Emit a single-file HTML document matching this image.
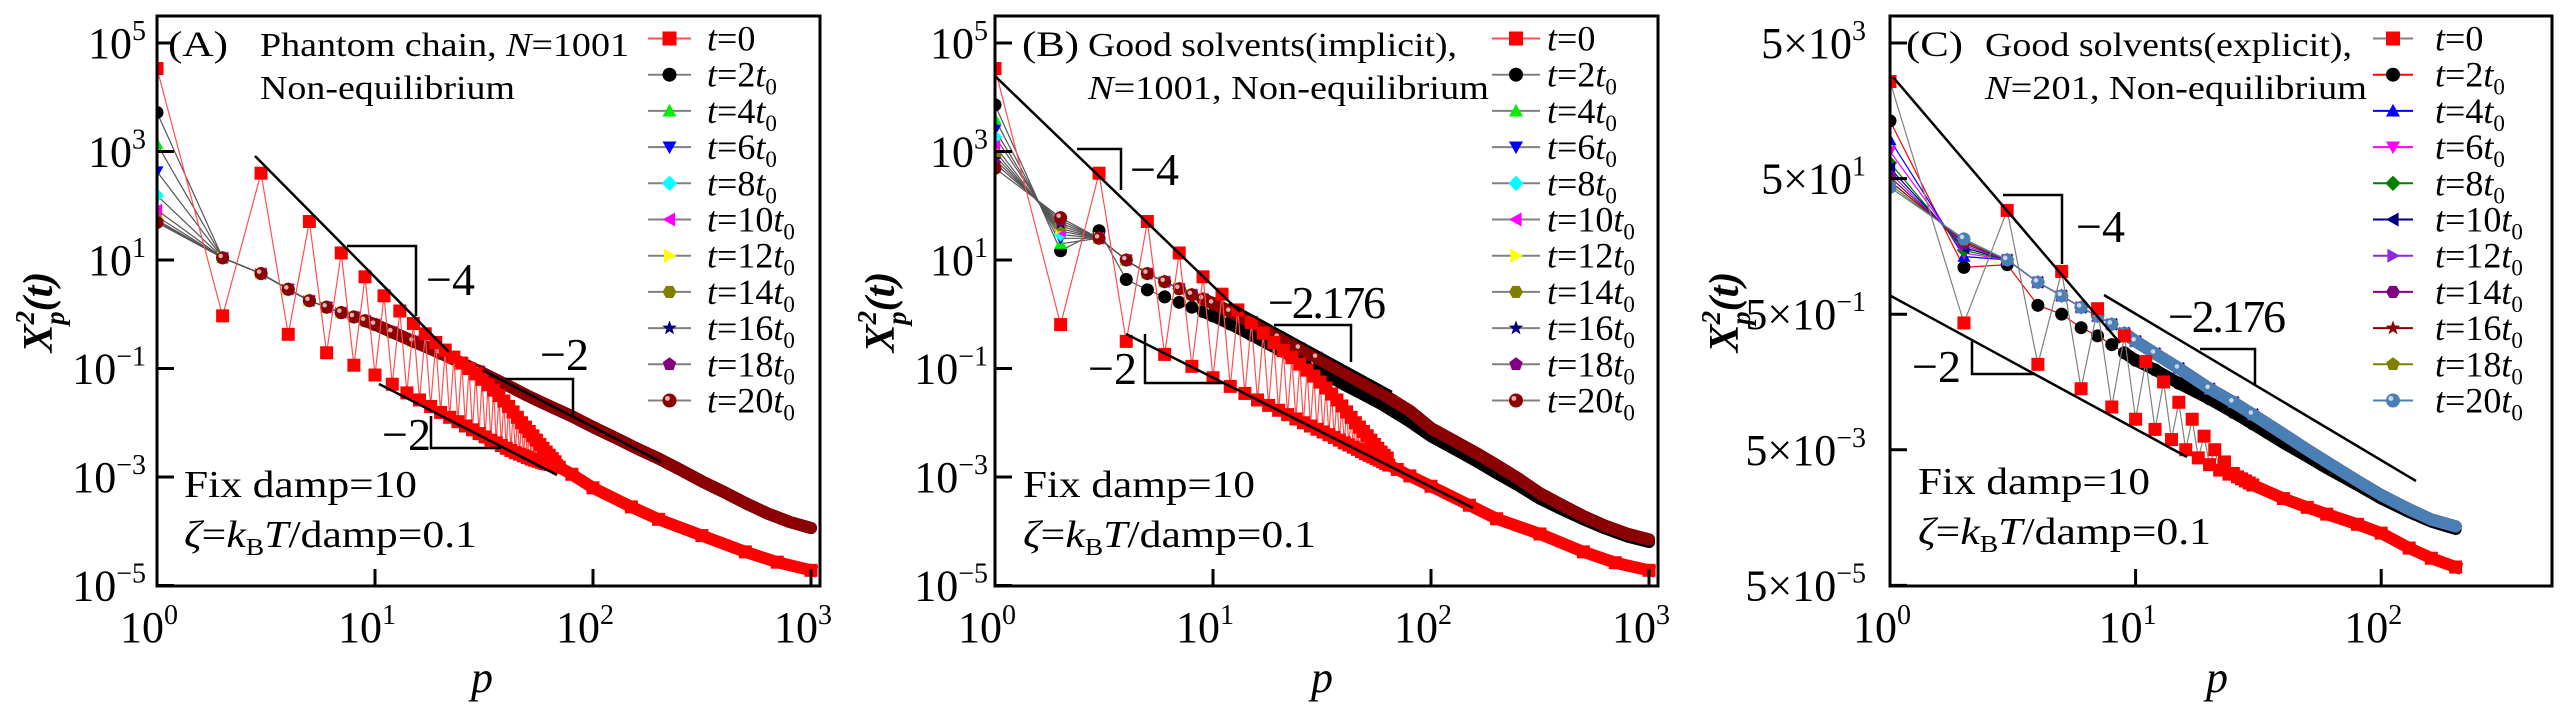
<!DOCTYPE html>
<html><head><meta charset="utf-8"><style>
html,body{margin:0;padding:0;background:#fff;}
svg{display:block;font-family:"Liberation Serif",serif;}
</style></head><body>
<svg id="chart" width="2567" height="709" viewBox="0 0 2567 709" xmlns="http://www.w3.org/2000/svg" font-family="Liberation Serif, serif"></svg>
<script>
// ---------- DATA (log10 values) ----------
const legendLabels = ["0","2","4","6","8","10","12","14","16","18","20"];
// Panel A: red t=0, values for p = 1..68
const redA = [4.53,-0.03,2.6,-0.37,1.71,-0.71,1.13,-0.94,0.69,-1.12,0.34,-1.29,0.06,-1.45,-0.17,-1.58,-0.36,-1.7,-0.52,-1.81,-0.66,-1.9,-0.79,-1.98,-0.9,-2.06,-1.0,-2.13,-1.1,-2.2,-1.2,-2.26,-1.3,-2.32,-1.4,-2.37,-1.5,-2.42,-1.6,-2.47,-1.7,-2.51,-1.8,-2.55,-1.9,-2.58,-2.0,-2.61,-2.08,-2.64,-2.16,-2.67,-2.24,-2.69,-2.32,-2.71,-2.4,-2.73,-2.47,-2.75,-2.54,-2.76,-2.6,-2.77,-2.66,-2.78,-2.72,-2.79];
const redTailPA = [70,80,100,150,200,316,500,700,1000];
const redTailA = [-2.82,-2.95,-3.2,-3.55,-3.78,-4.08,-4.38,-4.57,-4.72];
const bandStartA = [3.72,3.14,2.63,2.19,1.92,1.8,1.74,1.71,1.7,1.69];
const bandPA = [2,3,4,5,6,7,8,9,10,12,15,20,25,30,40,50,60,80,100,130,160,200,250,316,400,500,630,800,1000];
const bandA = [1.04,0.75,0.46,0.25,0.13,0.03,-0.05,-0.12,-0.19,-0.33,-0.5,-0.72,-0.9,-1.05,-1.3,-1.5,-1.65,-1.88,-2.08,-2.3,-2.48,-2.66,-2.86,-3.08,-3.28,-3.48,-3.67,-3.83,-3.94];
// Panel B
const redB = [4.53,-0.19,2.6,-0.5,1.71,-0.74,1.13,-0.96,0.69,-1.17,0.37,-1.33,0.08,-1.46,-0.15,-1.58,-0.35,-1.68,-0.52,-1.77,-0.67,-1.85,-0.8,-1.93,-0.92,-2.0,-1.03,-2.06,-1.14,-2.12,-1.25,-2.17,-1.36,-2.22,-1.47,-2.27,-1.58,-2.32,-1.69,-2.37,-1.8,-2.41,-1.9,-2.45,-2.0,-2.49,-2.08,-2.53,-2.16,-2.57,-2.24,-2.6,-2.32,-2.63,-2.4,-2.66,-2.47,-2.69,-2.54,-2.72,-2.6,-2.75,-2.65,-2.78];
const redTailPB = [70,80,100,150,200,316,500,700,1000];
const redTailB = [-2.86,-2.98,-3.17,-3.52,-3.77,-4.05,-4.38,-4.58,-4.72];
const bandStartB = [3.86,3.6,3.4,3.27,3.1,3.0,2.92,2.85,2.78,2.69];
const bandSecondB = [1.17,1.3,1.4,1.47,1.53,1.58,1.63,1.68,1.73,1.78];
const bandPB = [3,4,5,6,7,8,9,10,12,15,20,25,30,40,50,60,80,100,130,160,200,250,316,400,500,630,800,1000];
const blackB = [1.54,0.64,0.45,0.32,0.22,0.13,0.05,-0.03,-0.18,-0.38,-0.65,-0.85,-1.02,-1.3,-1.5,-1.67,-1.98,-2.25,-2.5,-2.7,-2.93,-3.15,-3.4,-3.6,-3.78,-3.95,-4.1,-4.2];
const upperB = [1.4,1.0,0.75,0.6,0.47,0.36,0.28,0.2,0.05,-0.15,-0.43,-0.63,-0.8,-1.08,-1.3,-1.47,-1.78,-2.1,-2.35,-2.55,-2.78,-3.02,-3.3,-3.52,-3.72,-3.9,-4.05,-4.15];
// Panel C
const redC = [3.13,-0.43,1.23,-1.04,0.33,-1.4,-0.22,-1.67,-0.62,-1.85,-1.0,-2.0,-1.3,-2.15,-1.6,-2.3,-1.85,-2.42,-2.1,-2.52,-2.3,-2.6,-2.48,-2.66,-2.65,-2.7,-2.73,-2.76,-2.79,-2.82];
const redTailPC = [40,50,60,80,100,130,160,201];
const redTailC = [-3.02,-3.15,-3.25,-3.4,-3.53,-3.75,-3.9,-4.03];
const bandStartC = [2.55,2.27,2.1,1.93,1.85,1.78,1.72,1.66,1.61,1.57];
const bandSecondC = [0.39,0.55,0.6,0.64,0.68,0.71,0.74,0.77,0.79,0.81];
const bandPC = [3,4,5,6,7,8,9,10,12,15,20,25,30,40,50,60,80,100,130,160,201];
const blackC = [0.43,-0.17,-0.3,-0.5,-0.62,-0.75,-0.87,-0.98,-1.12,-1.32,-1.55,-1.75,-1.92,-2.2,-2.4,-2.57,-2.82,-3.02,-3.22,-3.36,-3.47];
const upperC = [0.5,0.17,-0.03,-0.2,-0.33,-0.45,-0.58,-0.7,-0.88,-1.1,-1.4,-1.6,-1.78,-2.07,-2.3,-2.48,-2.76,-2.97,-3.18,-3.33,-3.43];
const yTicksAB = [5,3,1,-1,-3,-5];
const yTicksC = [3,1,-1,-3,-5];
const xTicksAB = [0,1,2,3];
const xTicksC = [0,1,2];

// ---------- STYLE ----------
const NS="http://www.w3.org/2000/svg";
const svg=document.getElementById('chart');
function el(tag,attrs,parent){const e=document.createElementNS(NS,tag);for(const k in attrs)e.setAttribute(k,attrs[k]);(parent||svg).appendChild(e);return e;}
const stylesAB=[["square","#ff0000"],["circle","#000000"],["triUp","#00ee00"],["triDown","#0000ff"],["diamond","#00ffff"],["triLeft","#ff00ff"],["triRight","#ffff00"],["hexagon","#808000"],["star","#000080"],["pentagon","#800080"],["ball","#8b0000"]];
const stylesC=[["square","#ff0000"],["circle","#000000"],["triUp","#0000ff"],["triDown","#ff00ff"],["diamond","#008000"],["triLeft","#000080"],["triRight","#8a2be2"],["hexagon","#800080"],["star","#8b0000"],["pentagon","#808000"],["ball","#4a7fb5"]];
const lineColC=["#808080","#ff0000","#0000ff","#ff00ff","#008000","#000080","#8a2be2","#800080","#8b0000","#808000","#4a7fb5"];

function marker(g,shape,color,x,y,s){
  let e;const r=s;
  if(shape==="square")e=el('rect',{x:x-r,y:y-r,width:2*r,height:2*r,fill:color},g);
  else if(shape==="circle")e=el('circle',{cx:x,cy:y,r:r,fill:color},g);
  else if(shape==="ball"){e=el('circle',{cx:x,cy:y,r:r,fill:color},g);el('circle',{cx:x-r*0.3,cy:y-r*0.3,r:r*0.35,fill:"#fff","fill-opacity":0.7},g);}
  else{
    let pts=[];
    if(shape==="triUp")pts=[[0,-r],[r,r*0.8],[-r,r*0.8]];
    else if(shape==="triDown")pts=[[0,r],[r,-r*0.8],[-r,-r*0.8]];
    else if(shape==="triLeft")pts=[[-r,0],[r*0.8,-r],[r*0.8,r]];
    else if(shape==="triRight")pts=[[r,0],[-r*0.8,-r],[-r*0.8,r]];
    else if(shape==="diamond")pts=[[0,-r*1.1],[r*1.1,0],[0,r*1.1],[-r*1.1,0]];
    else if(shape==="hexagon"){for(let i=0;i<6;i++){const a=Math.PI/3*i;pts.push([r*Math.cos(a),r*Math.sin(a)]);}}
    else if(shape==="pentagon"){for(let i=0;i<5;i++){const a=-Math.PI/2+2*Math.PI/5*i;pts.push([r*Math.cos(a),r*Math.sin(a)]);}}
    else if(shape==="star"){for(let i=0;i<10;i++){const a=-Math.PI/2+Math.PI/5*i;const rr=i%2?r*0.45:r*1.1;pts.push([rr*Math.cos(a),rr*Math.sin(a)]);}}
    e=el('polygon',{points:pts.map(p=>(x+p[0])+","+(y+p[1])).join(" "),fill:color},g);
  }
  return e;
}

function panel(cfg){
  const g=el('g',{});
  
  
  const X=lp=>cfg.x0+lp*cfg.dec;
  const Y=v=>cfg.yTop+(cfg.yMax-v)*cfg.ydec;
  const clipId="clip"+cfg.id;
  const cp=el('clipPath',{id:clipId},g);el('rect',{x:cfg.left,y:cfg.top,width:cfg.right-cfg.left,height:cfg.bottom-cfg.top},cp);
  const plot=el('g',{'clip-path':'url(#'+clipId+')'},g);
  
  
  const sty=cfg.styles;
  for(let s=1;s<=10;s++){
    const sg=el('g',{},plot);
    
    
    const P=[1],V=[cfg.bandStart[s-1]];
    if(cfg.bandSecond){P.push(2);V.push(cfg.bandSecond[s-1]);}
    const tail=(s===1)?cfg.blackTail:cfg.upperTail;
    cfg.bandP.forEach((p,i)=>{P.push(p);V.push(tail[i]);});
    const pts=P.map((p,i)=>[X(Math.log10(p)),Y(V[i])]);
    el('polyline',{points:pts.map(q=>q.join(",")).join(" "),fill:"none",stroke:cfg.lineCol?cfg.lineCol[s]:"#555","stroke-width":1.2},sg);
    const thick=pts.filter((q,i)=>P[i]>=9);
    el('polyline',{points:thick.map(q=>q.join(",")).join(" "),fill:"none",stroke:sty[s][1],"stroke-width":12,"stroke-linejoin":"round","stroke-linecap":"round"},sg);
    pts.forEach((q,i)=>{if(P[i]<=30){const m=marker(sg,sty[s][0],sty[s][1],q[0],q[1],6.5);}});
  }
  const rg=el('g',{},plot);
  
  
  const rp=cfg.red.map((v,i)=>[X(Math.log10(i+1)),Y(v)]);
  const last=rp[rp.length-1];
  const tp=cfg.redTailP.map((p,i)=>[X(Math.log10(p)),Y(cfg.redTail[i])]);
  el('polyline',{points:rp.map(q=>q.join(",")).join(" "),fill:"none",stroke:cfg.redLine,"stroke-width":1.2},rg);
  el('polyline',{points:[last].concat(tp).map(q=>q.join(",")).join(" "),fill:"none",stroke:"#ff0000","stroke-width":12,"stroke-linejoin":"round","stroke-linecap":"square"},rg);
  rp.forEach(q=>{const m=marker(rg,"square","#ff0000",q[0],q[1],6.5);});
  tp.forEach(q=>{const m=marker(rg,"square","#ff0000",q[0],q[1],6.5);});
  cfg.guides.forEach(gd=>{
    const l=el('polyline',{points:gd.pts.map(q=>q.join(",")).join(" "),fill:"none",stroke:"#000","stroke-width":gd.w||2.5},g);
    
    
  });
  cfg.slopeLabels.forEach(sl=>{
    const t=el('text',{x:sl[0],y:sl[1],'font-size':46,fill:"#000"},g);t.textContent=sl[2];
    if(sl[3])t.setAttribute('textLength',sl[3]);
    
    
  });
  const fr=el('rect',{x:cfg.left,y:cfg.top,width:cfg.right-cfg.left,height:cfg.bottom-cfg.top,fill:"none",stroke:"#000","stroke-width":3},g);
  
  
  cfg.yTicks.forEach((v,i)=>{
    const y=Y(v);
    el('line',{x1:cfg.left,x2:cfg.left+17,y1:y,y2:y,stroke:"#000","stroke-width":3},g);
    const t=el('text',{x:cfg.yLabelRight,y:y+15,'font-size':44,'text-anchor':'end'},g);
    
    
    const a=el('tspan',{},t);a.textContent=cfg.yPrefix+"10";
    const e=cfg.yExp[i];
    const b=el('tspan',{'font-size':28,dy:-18},t);b.textContent=(e<0?"\u2212"+(-e):String(e));
  });
  cfg.xTicks.forEach(v=>{
    const x=X(v);
    if(v>0&&x<cfg.right-2)el('line',{x1:x,x2:x,y1:cfg.bottom,y2:cfg.bottom-17,stroke:"#000","stroke-width":3},g);
    const t=el('text',{x:x-8,y:642,'font-size':44,'text-anchor':'middle'},g);
    
    
    const a=el('tspan',{},t);a.textContent="10";
    const b=el('tspan',{'font-size':28,dy:-18},t);b.textContent=String(v);
  });
  const xt=el('text',{x:cfg.xTitleX,y:692,'font-size':44,'font-style':'italic','text-anchor':'middle'},g);xt.textContent="p";
  
  
  const yt=el('text',{transform:`translate(${cfg.yTitleX},312) rotate(-90)`,'font-size':42,'font-weight':'bold','font-style':'italic','text-anchor':'middle',y:14},g);
  
  
  const y1=el('tspan',{},yt);y1.textContent="X";
  const y2=el('tspan',{'font-size':27,dy:-18},yt);y2.textContent="2";
  const y3=el('tspan',{'font-size':27,dx:-14,dy:30},yt);y3.textContent="p";
  const y4=el('tspan',{dy:-12},yt);y4.textContent="(t)";
  cfg.texts.forEach(tx=>{
    const t=el('text',{x:tx[0],y:tx[1],'font-size':tx[2],textLength:tx[3],lengthAdjust:"spacingAndGlyphs"},g);
    
    
    t.innerHTML=tx[4];
  });
  const lg=el('g',{},g);
  
  
  for(let i=0;i<11;i++){
    const ey=cfg.legY+i*36.2;
    const eg=el('g',{},lg);
    
    
    const lc=i===0?cfg.redLine:(cfg.lineCol?cfg.lineCol[i]:"#808080");
    el('line',{x1:cfg.legX1,x2:cfg.legX2,y1:ey,y2:ey,stroke:lc,"stroke-width":2},eg);
    marker(eg,sty[i][0],sty[i][1],(cfg.legX1+cfg.legX2)/2,ey,7);
    const t=el('text',{x:cfg.legTX,y:ey+12,'font-size':36},eg);
    if(i===0)t.innerHTML='<tspan font-style="italic">t</tspan>=0';
    else t.innerHTML='<tspan font-style="italic">t</tspan>='+legendLabels[i]+'<tspan font-style="italic">t</tspan><tspan font-size="23" dy="8">0</tspan>';
  }
}

const zetaTxt='<tspan font-style="italic">ζ</tspan>=<tspan font-style="italic">k</tspan><tspan font-size="24" dy="8">B</tspan><tspan font-style="italic" dy="-8">T</tspan>/damp=0.1';

panel({id:"A",name:"panel-a",x0:157,dec:218,yTop:43,yMax:5,ydec:54.25,left:157,right:820,top:16,bottom:586,
  styles:stylesAB,lineCol:null,redLine:"#ff5050",
  red:redA,redTailP:redTailPA,redTail:redTailA,bandStart:bandStartA,bandSecond:null,bandP:bandPA,blackTail:bandA,upperTail:bandA,
  yTicks:yTicksAB,yExp:yTicksAB,xTicks:xTicksAB,yPrefix:"",yLabelRight:146,xTitleX:482,yTitleX:38,
  guides:[{name:'slope-line-minus4',pts:[[255,156],[449,352]]},{name:'bracket-minus4',pts:[[347,246],[416,246],[416,316]]},
    {name:'slope-line-minus2-upper',pts:[[484,371],[661,462]]},{name:'bracket-minus2-upper',pts:[[504,379],[573,379],[573,416]]},
    {name:'slope-line-minus2-lower',pts:[[379,384],[557,475]]},{name:'bracket-minus2-lower',pts:[[431,416],[431,448],[501,448]]}],
  slopeLabels:[[426,295,"\u22124"],[540,370,"\u22122"],[382,450,"\u22122"]],
  texts:[[168,56,36,60,"(A)","panel-label"],[260,56,34,369,'Phantom chain, <tspan font-style="italic">N</tspan>=1001',"title-line1"],[260,99,34,255,"Non-equilibrium","title-line2"],
    [184,497,38,233,"Fix damp=10","damp-annotation"],[184,547,38,293,zetaTxt,"zeta-annotation"]],
  legX1:648,legX2:691,legTX:707,legY:38.5});

panel({id:"B",name:"panel-b",x0:995,dec:218,yTop:43,yMax:5,ydec:54.25,left:995,right:1658,top:16,bottom:586,
  styles:stylesAB,lineCol:null,redLine:"#ff5050",
  red:redB,redTailP:redTailPB,redTail:redTailB,bandStart:bandStartB,bandSecond:bandSecondB,bandP:bandPB,blackTail:blackB,upperTail:upperB,
  yTicks:yTicksAB,yExp:yTicksAB,xTicks:xTicksAB,yPrefix:"",yLabelRight:988,xTitleX:1322,yTitleX:880,
  guides:[{name:'slope-line-minus4',pts:[[996,77],[1240,312]]},{name:'bracket-minus4',pts:[[1077,149],[1121,149],[1121,190]]},
    {name:'slope-line-minus2.176',pts:[[1229,303],[1392,392]]},{name:'bracket-minus2.176',pts:[[1274,325],[1351,325],[1351,362]]},
    {name:'slope-line-minus2',pts:[[1126,334],[1473,508]]},{name:'bracket-minus2',pts:[[1145,334],[1145,383],[1224,383]]}],
  slopeLabels:[[1130,185,"\u22124"],[1268,318,"\u22122.176",118],[1088,384,"\u22122"]],
  texts:[[1022,56,36,57,"(B)","panel-label"],[1088,56,34,369,"Good solvents(implicit),","title-line1"],[1088,99,34,401,'<tspan font-style="italic">N</tspan>=1001, Non-equilibrium',"title-line2"],
    [1023,497,38,232,"Fix damp=10","damp-annotation"],[1023,547,38,293,zetaTxt,"zeta-annotation"]],
  legX1:1492,legX2:1540,legTX:1547,legY:38.5});

panel({id:"C",name:"panel-c",x0:1890,dec:245.6,yTop:43,yMax:Math.log10(5000),ydec:67.8,left:1890,right:2552,top:16,bottom:586,
  styles:stylesC,lineCol:lineColC,redLine:"#808080",
  red:redC,redTailP:redTailPC,redTail:redTailC,bandStart:bandStartC,bandSecond:bandSecondC,bandP:bandPC,blackTail:blackC,upperTail:upperC,
  yTicks:yTicksC.map(v=>v+Math.log10(5)),yExp:yTicksC,xTicks:xTicksC,yPrefix:"5\u00d7",yLabelRight:1866,xTitleX:2217,yTitleX:1724,
  guides:[{name:'slope-line-minus4',pts:[[1893,77],[2120,343]]},{name:'bracket-minus4',pts:[[2003,195],[2062,195],[2062,264]]},
    {name:'slope-line-minus2.176',pts:[[2104,295],[2416,481]]},{name:'bracket-minus2.176',pts:[[2200,349],[2255,349],[2255,384]]},
    {name:'slope-line-minus2',pts:[[1891,296],[2187,457]]},{name:'bracket-minus2',pts:[[1972,339],[1972,374],[2035,374]]}],
  slopeLabels:[[2076,242,"\u22124"],[2168,332,"\u22122.176",118],[1912,382,"\u22122"]],
  texts:[[1906,56,36,57,"(C)","panel-label"],[1985,56,34,367,"Good solvents(explicit),","title-line1"],[1985,99,34,382,'<tspan font-style="italic">N</tspan>=201, Non-equilibrium',"title-line2"],
    [1918,494,38,232,"Fix damp=10","damp-annotation"],[1918,544,38,293,zetaTxt,"zeta-annotation"]],
  legX1:2373,legX2:2413,legTX:2435,legY:38.5});
</script>
</body></html>
